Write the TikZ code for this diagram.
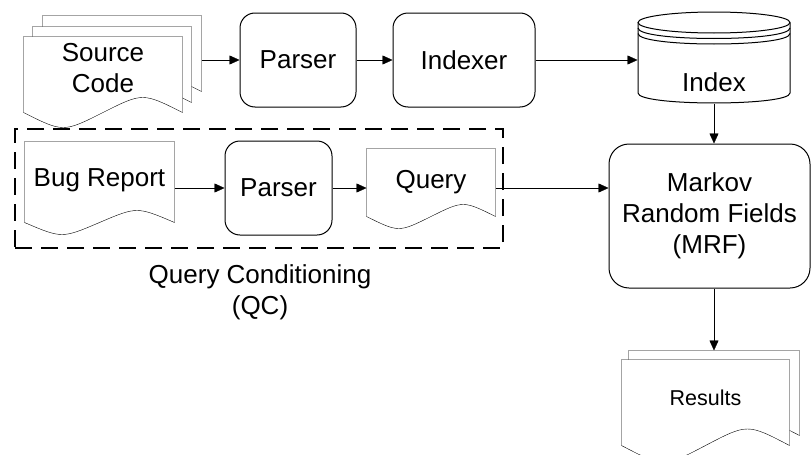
\documentclass[tikz,border=0pt]{standalone}
\usepackage{fontspec}
\setmainfont{Liberation Sans}
\usetikzlibrary{arrows.meta, calc}
\pgfdeclarelayer{background}
\pgfsetlayers{background,main}

\newcommand{\boxfont}{\fontsize{26}{31}\selectfont}
\newcommand{\smallboxfont}{\fontsize{21.5}{26}\selectfont}

% page outline with a wavy lower edge (#1 node, #2 wave height, #3 drop below node)
\newcommand{\docpage}[3]{%
  \draw[fill=white] ($(#1.south west)+(0,#3)$) -- (#1.north west) -- (#1.north east)
    -- ($(#1.south east)+(0,#3)$)
    .. controls ($(#1.south east)!0.5!(#1.south)+(0,#3-2*#2)$) .. ($(#1.south)+(0,#3)$)
    .. controls ($(#1.south)!0.5!(#1.south west)+(0,#3+2*#2)$) .. ($(#1.south west)+(0,#3)$)
    -- cycle;}

\begin{document}
\begin{tikzpicture}[x=1pt, y=-1pt, line width=1pt,
  every node/.style={font=\boxfont, align=center},
  docnode/.style={inner sep=0pt},
  proc/.style={draw, rounded corners=15pt},
  arr/.style={-{Triangle[length=10pt, width=9pt]}}]
  \useasboundingbox (0,0) rectangle (811,455);

  % indexing row
  \node (srcc) [docnode, minimum width=158pt, minimum height=63pt] at (122,47.5) {};
  \node (srcb) [docnode, minimum width=158pt, minimum height=63pt] at (112,58.5) {};
  \node (src) [docnode, minimum width=158pt, minimum height=63pt] at (103,68.5) {Source\\Code};
  \node (parsera) [proc, minimum width=116pt, minimum height=94pt] at (298,60) {Parser};
  \node (indexer) [proc, minimum width=142pt, minimum height=94pt] at (464,60) {Indexer};

  % index store
  \node (idx) [inner sep=0pt, minimum width=152pt, minimum height=91pt] at (714,57.5) {};
  \draw (638,22.5) -- (638,93) .. controls (638,106.3) and (790,106.3) .. (790,93) -- (790,22.5);
  \draw (714,22.5) ellipse [x radius=76, y radius=10.5];
  \draw (638,28) .. controls (638,42) and (790,42) .. (790,28);
  \draw (638,33.5) .. controls (638,47.5) and (790,47.5) .. (790,33.5);
  \node (idxtext) at (714,82) {Index};

  % query conditioning
  \node (qc) [draw, dash pattern=on 17pt off 9pt, line width=2pt,
    minimum width=488pt, minimum height=119pt] at (259,188.5) {};
  \node (bug) [docnode, minimum width=149pt, minimum height=76pt] at (99.5,180) {Bug Report};
  \node (parserb) [proc, minimum width=107pt, minimum height=94pt] at (278.5,188) {Parser};
  \node (query) [docnode, minimum width=128pt, minimum height=67pt] at (431,182.5) {Query};
  \node (qctext) at (260,292) {Query Conditioning\\(QC)};

  % ranking
  \node (mrf) [proc, rounded corners=20pt, minimum width=201pt, minimum height=144pt]
    at (709.5,216) {Markov\\Random Fields\\(MRF)};
  \node (resb) [docnode, minimum width=170pt, minimum height=74pt] at (714,388) {};
  \node (res) [docnode, minimum width=167pt, minimum height=75pt, font=\smallboxfont]
    at (705.5,397.5) {Results};

  \begin{pgfonlayer}{background}
    \docpage{srcc}{10}{12}
    \docpage{srcb}{10}{12}
    \docpage{src}{10}{12}
    \docpage{bug}{8}{4}
    \docpage{query}{8}{0}
    \docpage{resb}{11}{10}
    \docpage{res}{11}{10}
  \end{pgfonlayer}

  % connectors
  \draw[arr] (parsera.west -| srcc.east) -- (parsera.west);
  \draw[arr] (parsera) -- (indexer);
  \draw[arr] (indexer.east) -- (indexer.east -| idx.west);
  \draw[arr] (idx.south) -- (idx.south |- mrf.north);
  \draw[arr] (parserb.west -| bug.east) -- (parserb.west);
  \draw[arr] (parserb.east) -- (parserb.east -| query.west);
  \draw[arr] (parserb.east -| query.east) -- (parserb.east -| mrf.west);
  \draw[arr] (mrf.south -| resb.north) -- (resb.north);
\end{tikzpicture}
\end{document}
